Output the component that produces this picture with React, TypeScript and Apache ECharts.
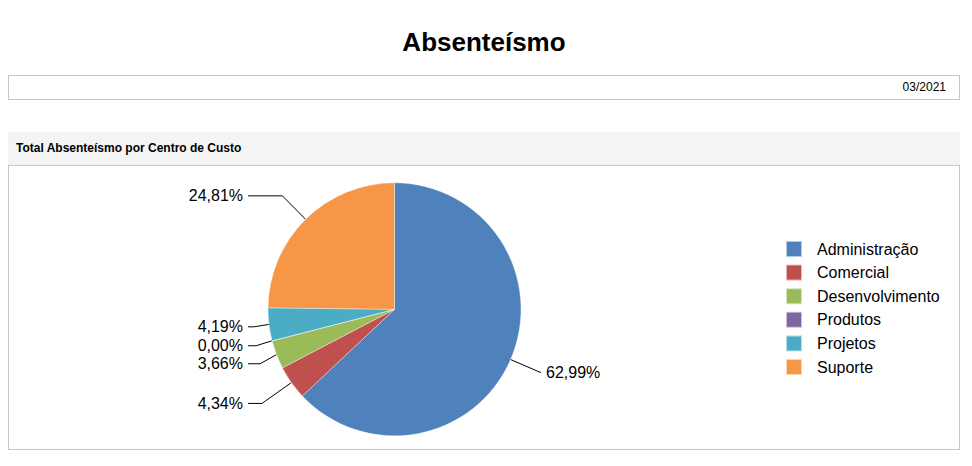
import { useEffect, useRef } from "react";
import * as echarts from "echarts";

// Cost centres, clockwise from 12 o'clock, and their share of absenteeism (%).
const CENTROS = ["Administração", "Comercial", "Desenvolvimento", "Produtos", "Projetos", "Suporte"];
const PERCENTUAIS = [62.99, 4.34, 3.66, 0.0, 4.19, 24.81];
const CORES = ["#4f81bd", "#c0504d", "#9bbb59", "#8064a2", "#4bacc6", "#f79646"];
// radial length of each label's leader line
const COMPR_LINHA = [32, 36, 20, 20, 20, 33];

const FONT = "Liberation Sans, Arial, sans-serif";
const BORDER = "#c6c6c6";

// pie geometry inside the chart box
const CX = 385.5;
const CY = 143.3;
const R = 126.5;
const LINE_END = R + 20; // leader lines all end at this horizontal distance from the centre
const TEXT_GAP = 5;

const fmtPct = (v: number) => v.toFixed(2).replace(".", ",") + "%";

function PieChart() {
  const boxRef = useRef<HTMLDivElement>(null);
  useEffect(() => {
    if (!boxRef.current) return;
    const inst = echarts.init(boxRef.current, undefined, { renderer: "svg" });
    inst.setOption({
      animation: false,
      textStyle: { fontFamily: FONT },
      legend: {
        orient: "vertical",
        left: 776,
        top: 74,
        padding: 0,
        icon: "rect",
        itemWidth: 16,
        itemHeight: 16,
        itemGap: 5.6,
        textStyle: { fontSize: 16, color: "#000", fontFamily: FONT, padding: [0, 0, 0, 10] },
        data: CENTROS,
      },
      series: [
        {
          type: "pie",
          center: [CX, CY],
          radius: R,
          startAngle: 90,
          clockwise: true,
          itemStyle: { borderColor: "rgba(255,255,255,0.6)", borderWidth: 0.6 },
          label: {
            show: true,
            position: "outside",
            fontSize: 16,
            color: "#000",
            fontFamily: FONT,
            formatter: (p: any) => fmtPct(p.value),
          },
          labelLine: { show: true, length: 20, length2: 2, lineStyle: { color: "#000", width: 1 } },
          // right-align every left label (and left-align right ones) on a common column
          labelLayout: (p: any) => {
            const pts = p.labelLinePoints;
            if (!pts) return {};
            const left = pts[2][0] < CX;
            const endX = left ? Math.min(pts[1][0], CX - LINE_END) : Math.max(pts[1][0], CX + LINE_END);
            return {
              x: left ? endX - TEXT_GAP : endX + TEXT_GAP,
              align: left ? "right" : "left",
              labelLinePoints: [pts[0], pts[1], [endX, pts[1][1]]],
            };
          },
          emphasis: { disabled: true },
          data: CENTROS.map((name, i) => ({
            name,
            value: PERCENTUAIS[i],
            itemStyle: { color: CORES[i] },
            labelLine: { length: COMPR_LINHA[i] },
          })),
        },
      ],
    });
    return () => inst.dispose();
  }, []);
  return <div ref={boxRef} style={{ width: 950, height: 283 }} />;
}

export default function App() {
  return (
    <div style={{ fontFamily: FONT, width: 952, color: "#000" }}>
      <div style={{ height: 67, lineHeight: "68px", textAlign: "center", fontSize: 26, fontWeight: "bold" }}>
        Absenteísmo
      </div>
      <div
        style={{
          border: `1px solid ${BORDER}`,
          height: 23,
          lineHeight: "23px",
          fontSize: 12,
          textAlign: "right",
          paddingRight: 13,
        }}
      >
        03/2021
      </div>
      <div
        style={{
          marginTop: 32,
          background: "#f4f4f4",
          height: 33,
          lineHeight: "33px",
          paddingLeft: 8,
          fontSize: 12,
          fontWeight: "bold",
        }}
      >
        Total Absenteísmo por Centro de Custo
      </div>
      <div style={{ border: `1px solid ${BORDER}`, width: 950, height: 283 }}>
        <PieChart />
      </div>
    </div>
  );
}
